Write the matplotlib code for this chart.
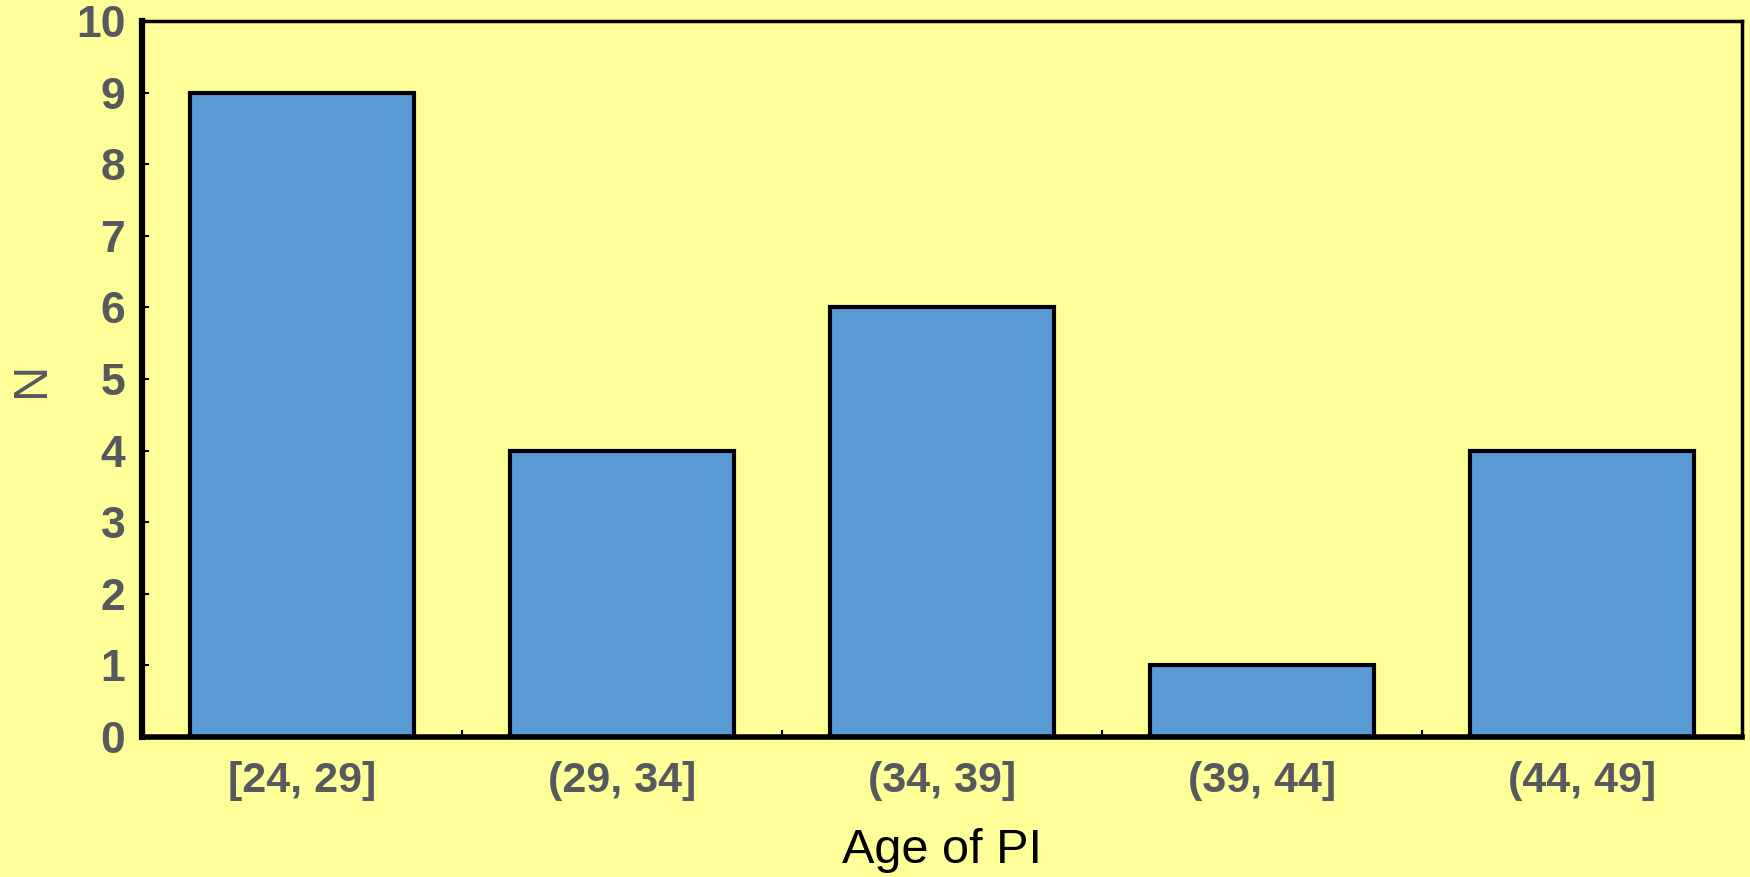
import matplotlib
matplotlib.use("Agg")
import matplotlib.pyplot as plt
import numpy as np

# age bins of the PI and counts
categories = ["[24, 29]", "(29, 34]", "(34, 39]", "(39, 44]", "(44, 49]"]
counts = [9, 4, 6, 1, 4]
y_ticks = list(range(0, 11))

plt.rcParams['font.family'] = ['Liberation Sans', 'DejaVu Sans']

bg = '#ffff99'
grey = '#56595e'

fig = plt.figure(figsize=(17.5, 8.77), dpi=100, facecolor=bg)
ax = fig.add_axes([0.0811, 0.1596, 0.9143, 0.8164])
ax.set_facecolor(bg)

x = np.arange(len(categories))
ax.bar(x, counts, width=0.7, color='#5b9bd5', edgecolor='black', linewidth=3)

ax.set_xlim(-0.5, len(categories) - 0.5)
ax.set_ylim(0, 10)
ax.set_yticks(y_ticks)
ax.set_xticks(x)
ax.set_xticklabels(categories)
ax.set_xticks(x[:-1] + 0.5, minor=True)

# tick styling
ax.tick_params(axis='y', direction='in', length=5, width=1.5, pad=12,
               labelsize=32, labelcolor=grey)
ax.tick_params(axis='x', which='major', length=0, pad=17,
               labelsize=31, labelcolor=grey)
ax.tick_params(axis='x', which='minor', direction='in', length=5, width=1.5)
for lab in ax.get_xticklabels() + ax.get_yticklabels():
    lab.set_fontweight('bold')

ax.spines['left'].set_linewidth(4.5)
ax.spines['bottom'].set_linewidth(4)
ax.spines['top'].set_linewidth(2.5)
ax.spines['right'].set_linewidth(2.5)

ax.set_xlabel('Age of PI', fontsize=35, color='black', labelpad=20)
ax.set_ylabel('N', fontsize=35, color=grey, labelpad=16)

fig.savefig('out.png', dpi=100, facecolor=bg)
